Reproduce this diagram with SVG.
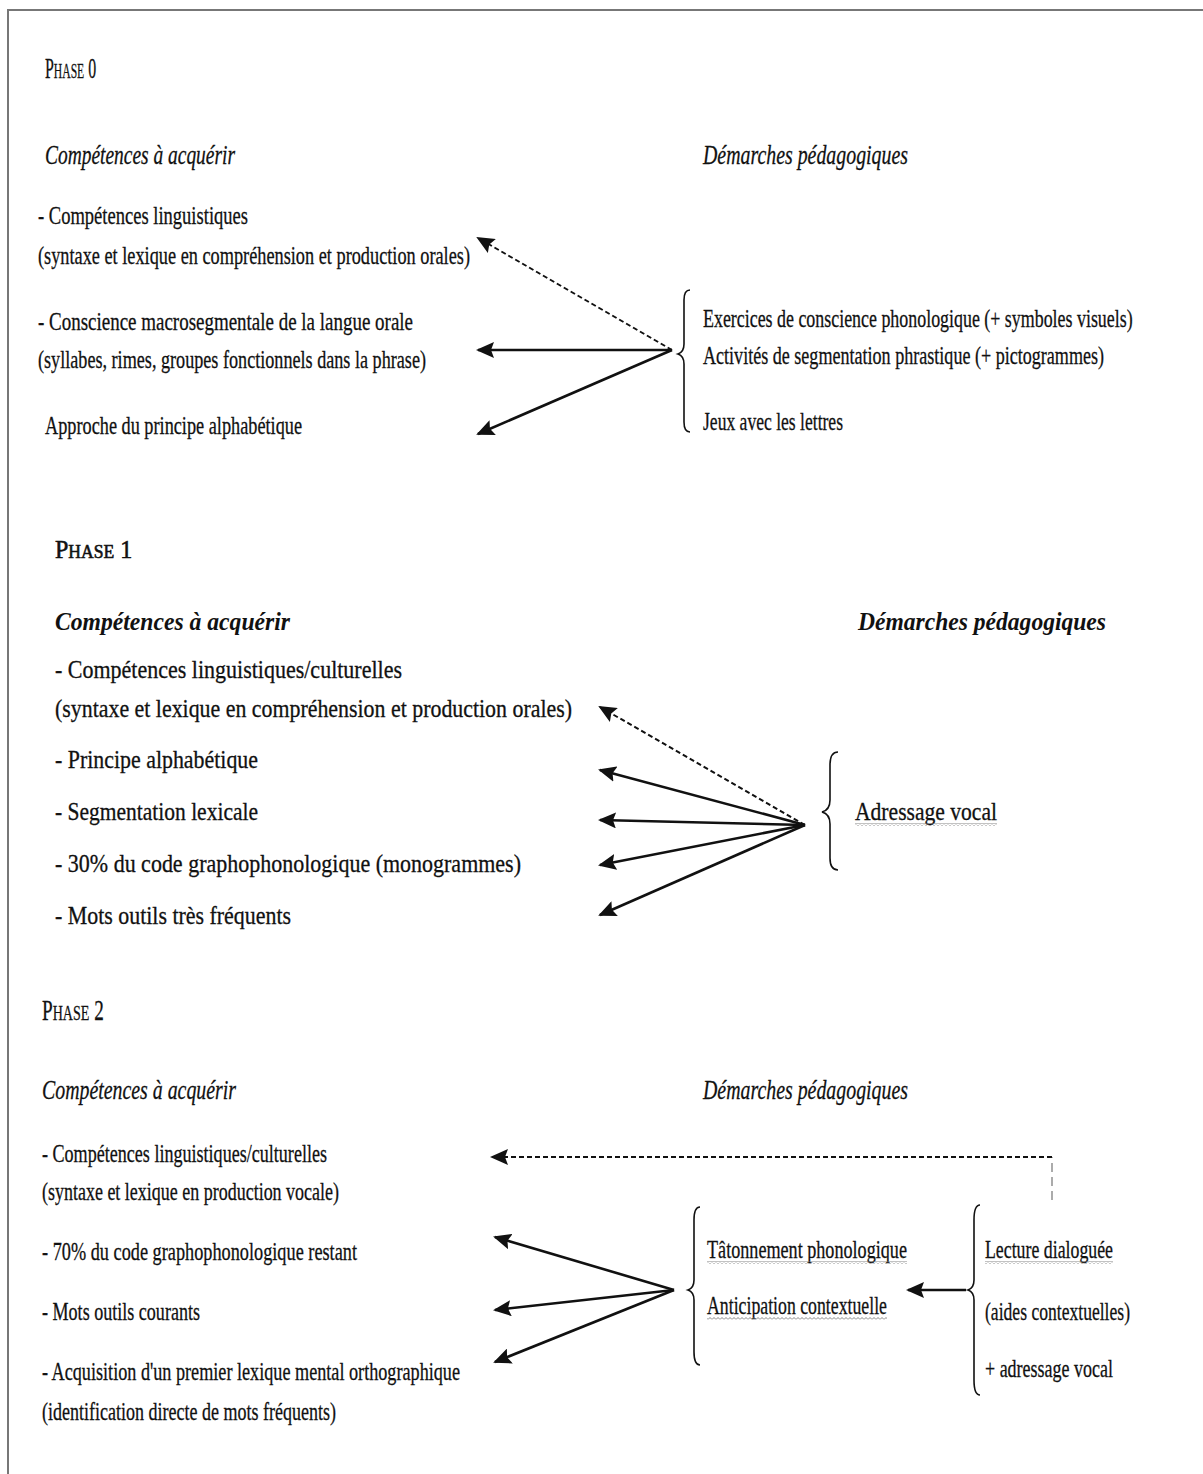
<svg xmlns="http://www.w3.org/2000/svg" width="1203" height="1474" viewBox="0 0 1203 1474">
<style>
text{font-family:"Liberation Serif","DejaVu Serif",serif;fill:#111;stroke:#111;stroke-width:0.3;}
.b{font-size:26px;}
.b1{font-size:25px;}
.h{font-size:28px;font-style:italic;}
.hb{font-size:26px;font-style:italic;font-weight:bold;stroke-width:0;}
.sol{stroke:#111;stroke-width:2.6;fill:none;}
.dsh{stroke:#111;stroke-width:2;stroke-dasharray:5 3;fill:none;}
.dg{stroke:#888;stroke-width:1.4;stroke-dasharray:9 5;fill:none;}
.br{stroke:#111;stroke-width:1.6;fill:none;}
.frame{stroke:#777;stroke-width:2;fill:none;}
</style>
<defs>
<marker id="ah" markerUnits="userSpaceOnUse" markerWidth="18" markerHeight="16" viewBox="0 0 18 16" refX="16" refY="8" orient="auto">
<path d="M0,0 L18,8 L0,16 L3,8 z" fill="#111"/>
</marker>
<pattern id="wavy" width="4" height="3" patternUnits="userSpaceOnUse">
<path d="M0,2.5 L2,0.5 L4,2.5" stroke="#777" stroke-width="0.9" fill="none"/>
</pattern>
</defs>
<rect width="1203" height="1474" fill="#fff"/>
<path class="frame" d="M8,1474 L8,10 L1203,10"/>

<g id="phase0">
<text id="phase0-title" transform="translate(45,78) scale(0.55,1)" textLength="93" lengthAdjust="spacingAndGlyphs"><tspan style="font-size:30px">P</tspan><tspan style="font-size:22px">HASE</tspan><tspan style="font-size:30px"> 0</tspan></text>
<text class="h" x="45" y="164" textLength="190" lengthAdjust="spacingAndGlyphs">Compétences à acquérir</text>
<text class="h" x="703" y="164" textLength="205" lengthAdjust="spacingAndGlyphs">Démarches pédagogiques</text>
<g id="p0-ling"><text class="b" x="38" y="224" textLength="210" lengthAdjust="spacingAndGlyphs">- Compétences linguistiques</text>
<text class="b" x="38" y="264" textLength="432" lengthAdjust="spacingAndGlyphs">(syntaxe et lexique en compréhension et production orales)</text></g>
<g id="p0-consc"><text class="b" x="38" y="330" textLength="375" lengthAdjust="spacingAndGlyphs">- Conscience macrosegmentale de la langue orale</text>
<text class="b" x="38" y="368" textLength="388" lengthAdjust="spacingAndGlyphs">(syllabes, rimes, groupes fonctionnels dans la phrase)</text></g>
<g id="p0-alpha"><text class="b" x="45" y="434" textLength="257" lengthAdjust="spacingAndGlyphs">Approche du principe alphabétique</text></g>
<g id="p0-demarches">
<path class="br" d="M690,290 Q684,290 684,300 L684,344 Q684,352 678,354 Q684,356 684,364 L684,422 Q684,432 690,432"/>
<text class="b" transform="translate(703,327) scale(0.65,1)" textLength="661" lengthAdjust="spacingAndGlyphs">Exercices de conscience phonologique (+ symboles visuels)</text>
<text class="b" transform="translate(703,364) scale(0.65,1)" textLength="617" lengthAdjust="spacingAndGlyphs">Activités de segmentation phrastique (+ pictogrammes)</text>
<text class="b" x="703" y="430" textLength="140" lengthAdjust="spacingAndGlyphs">Jeux avec les lettres</text>
</g>
</g>

<g id="phase1">
<text id="phase1-title" transform="translate(55,558) scale(0.92,1)" textLength="84" lengthAdjust="spacingAndGlyphs" style="stroke-width:0.6"><tspan style="font-size:26px">P</tspan><tspan style="font-size:19px">HASE</tspan><tspan style="font-size:26px"> 1</tspan></text>
<text class="hb" x="55" y="630" textLength="235" lengthAdjust="spacingAndGlyphs">Compétences à acquérir</text>
<text class="hb" x="858" y="630" textLength="248" lengthAdjust="spacingAndGlyphs">Démarches pédagogiques</text>
<g id="p1-ling"><text class="b1" x="55" y="678" textLength="347" lengthAdjust="spacingAndGlyphs">- Compétences linguistiques/culturelles</text>
<text class="b1" x="55" y="717" textLength="517" lengthAdjust="spacingAndGlyphs">(syntaxe et lexique en compréhension et production orales)</text></g>
<g id="p1-alpha"><text class="b1" x="55" y="768" textLength="203" lengthAdjust="spacingAndGlyphs">- Principe alphabétique</text></g>
<g id="p1-seg"><text class="b1" x="55" y="820" textLength="203" lengthAdjust="spacingAndGlyphs">- Segmentation lexicale</text></g>
<g id="p1-code"><text class="b1" x="55" y="872" textLength="466" lengthAdjust="spacingAndGlyphs">- 30% du code graphophonologique (monogrammes)</text></g>
<g id="p1-mots"><text class="b1" x="55" y="924" textLength="236" lengthAdjust="spacingAndGlyphs">- Mots outils très fréquents</text></g>
<g id="p1-adressage">
<path class="br" d="M838,752 Q830,752 830,765 L830,800 Q830,810 822,812 Q830,814 830,824 L830,858 Q830,870 838,870"/>
<text class="b1" x="855" y="820" textLength="142" lengthAdjust="spacingAndGlyphs">Adressage vocal</text>
<rect x="855" y="823" width="142" height="3" fill="url(#wavy)"/>
</g>
</g>

<g id="phase2">
<text id="phase2-title" transform="translate(42,1020) scale(0.65,1)" textLength="95" lengthAdjust="spacingAndGlyphs"><tspan style="font-size:30px">P</tspan><tspan style="font-size:22px">HASE</tspan><tspan style="font-size:30px"> 2</tspan></text>
<text class="h" x="42" y="1099" textLength="194" lengthAdjust="spacingAndGlyphs">Compétences à acquérir</text>
<text class="h" x="703" y="1099" textLength="205" lengthAdjust="spacingAndGlyphs">Démarches pédagogiques</text>
<g id="p2-ling"><text class="b" x="42" y="1162" textLength="285" lengthAdjust="spacingAndGlyphs">- Compétences linguistiques/culturelles</text>
<text class="b" x="42" y="1200" textLength="297" lengthAdjust="spacingAndGlyphs">(syntaxe et lexique en production vocale)</text></g>
<g id="p2-code"><text class="b" x="42" y="1260" textLength="315" lengthAdjust="spacingAndGlyphs">- 70% du code graphophonologique restant</text></g>
<g id="p2-mots"><text class="b" x="42" y="1320" textLength="158" lengthAdjust="spacingAndGlyphs">- Mots outils courants</text></g>
<g id="p2-lex"><text class="b" x="42" y="1380" textLength="418" lengthAdjust="spacingAndGlyphs">- Acquisition d'un premier lexique mental orthographique</text>
<text class="b" x="42" y="1420" textLength="294" lengthAdjust="spacingAndGlyphs">(identification directe de mots fréquents)</text></g>
<g id="p2-strategies">
<path class="br" d="M700,1207 Q694,1207 694,1220 L694,1280 Q694,1288 688,1290 Q694,1292 694,1300 L694,1352 Q694,1365 700,1365"/>
<text class="b" x="707" y="1258" textLength="200" lengthAdjust="spacingAndGlyphs">Tâtonnement phonologique</text>
<rect x="707" y="1261" width="200" height="3" fill="url(#wavy)"/>
<text class="b" x="707" y="1314" textLength="180" lengthAdjust="spacingAndGlyphs">Anticipation contextuelle</text>
<rect x="707" y="1317" width="180" height="3" fill="url(#wavy)"/>
</g>
<g id="p2-lecture">
<path class="br" d="M980,1205 Q974,1205 974,1220 L974,1280 Q974,1288 968,1290 Q974,1292 974,1300 L974,1380 Q974,1395 980,1395"/>
<text class="b" x="985" y="1258" textLength="128" lengthAdjust="spacingAndGlyphs">Lecture dialoguée</text>
<rect x="985" y="1261" width="128" height="3" fill="url(#wavy)"/>
<text class="b" x="985" y="1320" textLength="145" lengthAdjust="spacingAndGlyphs">(aides contextuelles)</text>
<text class="b" x="985" y="1377" textLength="128" lengthAdjust="spacingAndGlyphs">+ adressage vocal</text>
</g>
</g>

<g id="connectors">
<line class="dsh" x1="672" y1="350" x2="478" y2="238" marker-end="url(#ah)"/>
<line class="sol" x1="672" y1="350" x2="478" y2="350" marker-end="url(#ah)"/>
<line class="sol" x1="672" y1="350" x2="478" y2="434" marker-end="url(#ah)"/>

<line class="dsh" x1="805" y1="825" x2="600" y2="707" marker-end="url(#ah)"/>
<line class="sol" x1="805" y1="825" x2="600" y2="770" marker-end="url(#ah)"/>
<line class="sol" x1="805" y1="825" x2="600" y2="820" marker-end="url(#ah)"/>
<line class="sol" x1="805" y1="825" x2="600" y2="865" marker-end="url(#ah)"/>
<line class="sol" x1="805" y1="825" x2="600" y2="915" marker-end="url(#ah)"/>

<line class="dg" x1="1052" y1="1200" x2="1052" y2="1157"/>
<line class="dsh" x1="1052" y1="1157" x2="492" y2="1157" marker-end="url(#ah)"/>
<line class="sol" x1="674" y1="1290" x2="495" y2="1237" marker-end="url(#ah)"/>
<line class="sol" x1="674" y1="1290" x2="495" y2="1310" marker-end="url(#ah)"/>
<line class="sol" x1="674" y1="1290" x2="495" y2="1362" marker-end="url(#ah)"/>
<line class="sol" x1="966" y1="1290" x2="908" y2="1290" marker-end="url(#ah)"/>
</g>
</svg>
